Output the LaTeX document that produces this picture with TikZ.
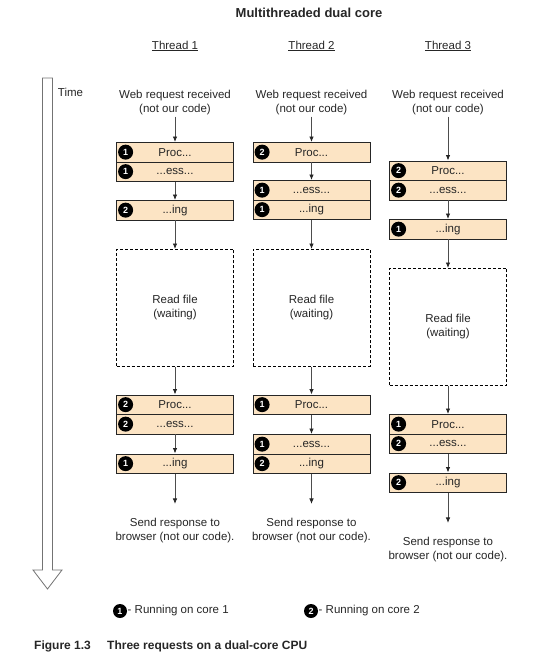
\documentclass[tikz,border=0pt]{standalone}
\usepackage{fontspec}
\setmainfont{Liberation Sans}
\usetikzlibrary{arrows.meta}
\definecolor{peach}{HTML}{FCE4C4}
\definecolor{ink}{HTML}{262626}
\definecolor{linegray}{HTML}{4D4D4D}
\definecolor{tipgray}{HTML}{262626}
\newcommand\bodyfs{\fontsize{11.5}{14}\selectfont}
\begin{document}
\begin{tikzpicture}[x=1pt,y=-1pt,
  pbox/.style={draw=ink, line width=0.8pt, fill=peach, minimum width=117, minimum height=19.5, inner sep=0, anchor=north, font=\bodyfs, text=ink},
  wbox/.style={draw=black, dash pattern=on 3pt off 2pt, line width=0.8pt, fill=white, minimum width=117, minimum height=117, inner sep=0, anchor=north, align=center, font=\bodyfs, text=ink},
  badge/.style={circle, fill=black, text=white, inner sep=0, minimum size=15, font=\bfseries\fontsize{9}{9}\selectfont},
  flow/.style={draw=linegray, line width=0.8pt, -{Latex[length=5.5pt,width=4.5pt,color=tipgray]}},
  lbl/.style={align=center, font=\bodyfs, text=ink, inner sep=1pt},
  head/.style={font=\bodyfs, text=ink, inner sep=0}
]
\useasboundingbox (0,0) rectangle (557,662);

% title and headers
\node[font=\bfseries\fontsize{13}{15}\selectfont, text=ink] (title) at (309,13) {Multithreaded dual core};
\node[head] (t1) at (175,46) {\underline{Thread 1}};
\node[head] (t2) at (311.5,46) {\underline{Thread 2}};
\node[head] (t3) at (448,46) {\underline{Thread 3}};

% time arrow
\draw[draw=black!55, line width=0.8pt, fill=white, line join=miter]
  (42.5,78) -- (52.5,78) -- (52.5,570) -- (62,570) -- (47.5,589) -- (33,570) -- (42.5,570) -- cycle;
\node[head] (time) at (70.5,92) {Time};

% ---------- column 1 ----------
\node[lbl] (w1) at (175,103) {Web request received\\(not our code)};
\node[pbox] (a1) at (175,142) {Proc...};
\node[pbox] (a2) at (175,161.5) {...ess...};
\node[pbox] (a3) at (175,200) {...ing};
\node[wbox] (a4) at (175,249) {Read file\\(waiting)};
\node[pbox] (a5) at (175,394.5) {Proc...};
\node[pbox] (a6) at (175,414) {...ess...};
\node[pbox] (a7) at (175,453.5) {...ing};
\node[lbl] (s1) at (175,530.5) {Send response to\\browser (not our code).};
\node[badge] at ([xshift=9.5pt]a1.west) {1};
\node[badge] at ([xshift=9.5pt]a2.west) {1};
\node[badge] at ([xshift=9.5pt]a3.west) {2};
\node[badge] at ([xshift=9.5pt]a5.west) {2};
\node[badge] at ([xshift=9.5pt]a6.west) {2};
\node[badge] at ([xshift=9.5pt]a7.west) {1};
\draw[flow] (w1) -- (a1);
\draw[flow] (a2) -- (a3);
\draw[flow] (a3) -- (a4);
\draw[flow] (a4) -- (a5);
\draw[flow] (a6) -- (a7);
\draw[flow, shorten >=13pt] (a7) -- (s1);

% ---------- column 2 ----------
\node[lbl] (w2) at (311.5,103) {Web request received\\(not our code)};
\node[pbox] (b1) at (311.5,142) {Proc...};
\node[pbox] (b2) at (311.5,180) {...ess...};
\node[pbox] (b3) at (311.5,199.5) {...ing};
\node[wbox] (b4) at (311.5,249) {Read file\\(waiting)};
\node[pbox] (b5) at (311.5,394.5) {Proc...};
\node[pbox] (b6) at (311.5,434) {...ess...};
\node[pbox] (b7) at (311.5,453.5) {...ing};
\node[lbl] (s2) at (311.5,530.5) {Send response to\\browser (not our code).};
\node[badge] at ([xshift=9.5pt]b1.west) {2};
\node[badge] at ([xshift=9.5pt]b2.west) {1};
\node[badge] at ([xshift=9.5pt]b3.west) {1};
\node[badge] at ([xshift=9.5pt]b5.west) {1};
\node[badge] at ([xshift=9.5pt]b6.west) {1};
\node[badge] at ([xshift=9.5pt]b7.west) {2};
\draw[flow] (w2) -- (b1);
\draw[flow] (b1) -- (b2);
\draw[flow] (b3) -- (b4);
\draw[flow] (b4) -- (b5);
\draw[flow] (b5) -- (b6);
\draw[flow, shorten >=13pt] (b7) -- (s2);

% ---------- column 3 ----------
\node[lbl] (w3) at (448,103) {Web request received\\(not our code)};
\node[pbox] (c1) at (448,160.5) {Proc...};
\node[pbox] (c2) at (448,180) {...ess...};
\node[pbox] (c3) at (448,219) {...ing};
\node[wbox] (c4) at (448,268) {Read file\\(waiting)};
\node[pbox] (c5) at (448,414) {Proc...};
\node[pbox] (c6) at (448,433.5) {...ess...};
\node[pbox] (c7) at (448,472.5) {...ing};
\node[lbl] (s3) at (448,549.5) {Send response to\\browser (not our code).};
\node[badge] at ([xshift=9.5pt]c1.west) {2};
\node[badge] at ([xshift=9.5pt]c2.west) {2};
\node[badge] at ([xshift=9.5pt]c3.west) {1};
\node[badge] at ([xshift=9.5pt]c5.west) {1};
\node[badge] at ([xshift=9.5pt]c6.west) {2};
\node[badge] at ([xshift=9.5pt]c7.west) {2};
\draw[flow] (w3) -- (c1);
\draw[flow] (c2) -- (c3);
\draw[flow] (c3) -- (c4);
\draw[flow] (c4) -- (c5);
\draw[flow] (c6) -- (c7);
\draw[flow, shorten >=13pt] (c7) -- (s3);

% ---------- legend ----------
\node[badge, minimum size=14] (k1) at (120,611) {1};
\node[head, anchor=west] (k1t) at (127.5,611) {- Running on core 1};
\node[badge, minimum size=14] (k2) at (311,611) {2};
\node[head, anchor=west] (k2t) at (318.5,611) {- Running on core 2};

% ---------- caption ----------
\node[font=\bfseries\fontsize{12}{14}\selectfont, text=ink, anchor=base west, inner sep=0] (fig) at (34,649) {Figure 1.3};
\node[font=\bfseries\fontsize{12}{14}\selectfont, text=ink, anchor=base west, inner sep=0] (cap) at (107,649) {Three requests on a dual-core CPU};
\end{tikzpicture}
\end{document}
